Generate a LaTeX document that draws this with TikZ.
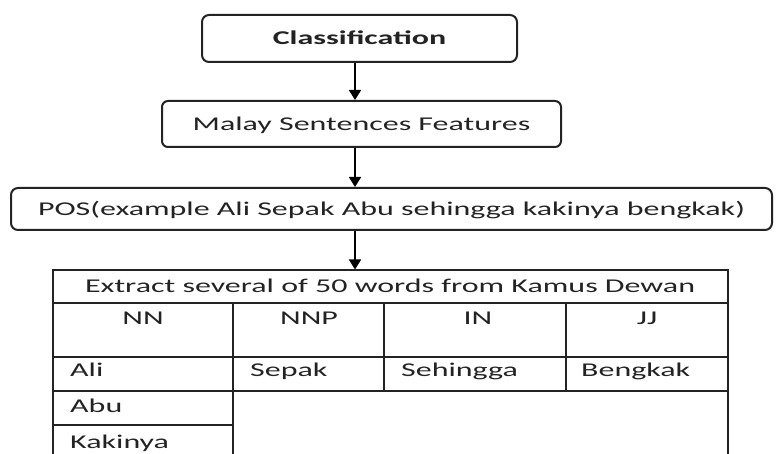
\documentclass[tikz,border=0pt]{standalone}
\usepackage{fontspec}
\setmainfont[FakeStretch=1.64]{Carlito}
\usetikzlibrary{arrows.meta, positioning}
\definecolor{inkgray}{RGB}{35,35,35}

\tikzset{
  stagebox/.style={draw=inkgray, line width=2pt, rounded corners=7pt, inner sep=0pt,
    text height=12.5pt, text depth=0pt, text=inkgray},
  flowarrow/.style={draw=black, line width=1.7pt, -{Triangle[length=10pt, width=12pt]}},
  gridline/.style={draw=inkgray, line width=2pt},
  celltext/.style={inner sep=0pt, text=inkgray, anchor=base west},
  headtext/.style={inner sep=0pt, text=inkgray, anchor=base}
}

\begin{document}
\begin{tikzpicture}[x=1pt, y=-1pt, font=\fontsize{19.5}{23}\selectfont]
  \useasboundingbox (0,0) rectangle (777,454);
  \coordinate (ax) at (355,0);

  % Stages
  \node[stagebox, minimum width=315pt, minimum height=47pt, font=\fontsize{19.5}{23}\selectfont\bfseries]
    (classify) at (359.5,38.5) {Classification};
  \node[stagebox, minimum width=399pt, minimum height=46pt, rounded corners=6pt]
    (features) at (361.5,124) {Malay Sentences Features};
  \node[stagebox, minimum width=761pt, minimum height=42pt]
    (postag) at (391.5,209) {POS(example Ali Sepak Abu sehingga kakinya bengkak)};

  % Table title
  \node[gridline, minimum width=675pt, minimum height=32.5pt, inner sep=0pt, text=inkgray,
    text height=12.5pt, text depth=0pt] (title) at (390,286.75)
    {Extract several of 50 words from Kamus Dewan};

  % Arrows
  \draw[flowarrow] (classify.south -| ax) -- (features.north -| ax);
  \draw[flowarrow] (features.south -| ax) -- (postag.north -| ax);
  \draw[flowarrow] (postag.south -| ax) -- (title.north -| ax);

  % Grid
  \draw[gridline] (52.5,303) -- (52.5,454);
  \draw[gridline] (727.5,303) -- (727.5,454);
  \draw[gridline] (52.5,357) -- (727.5,357);
  \draw[gridline] (52.5,391) -- (727.5,391);
  \draw[gridline] (52.5,425) -- (233,425);
  \draw[gridline] (233,303) -- (233,454);
  \foreach \cx in {384,566}
    \draw[gridline] (\cx,303) -- (\cx,391);

  % Tag headers
  \node[headtext] (nn) at (143,325) {NN};
  \node[headtext] (nnp) at (309,325) {NNP};
  \node[headtext] (in) at (478,325) {IN};
  \node[headtext] (jj) at (647,325) {JJ};

  % Words
  \node[celltext] (ali) at (70,377) {Ali};
  \node[celltext] (sepak) at (250,377) {Sepak};
  \node[celltext] (sehingga) at (401,377) {Sehingga};
  \node[celltext] (bengkak) at (581,377) {Bengkak};
  \node[celltext] (abu) at (70,413) {Abu};
  \node[celltext] (kakinya) at (70,448) {Kakinya};
\end{tikzpicture}
\end{document}
